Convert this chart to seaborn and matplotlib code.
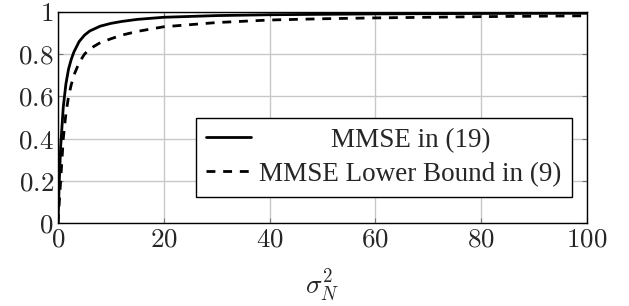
import numpy as np
import pandas as pd
import seaborn as sns
import matplotlib
matplotlib.use("Agg")
import matplotlib.pyplot as plt
from matplotlib.ticker import FuncFormatter

# values
sigma2 = [0, 0.25, 0.5, 1, 1.5, 2, 2.5, 3, 4, 5, 6, 8, 10, 12, 15, 20, 25, 30, 40, 50, 60, 80, 100]
mmse = [0, 0.2, 0.36, 0.55, 0.66, 0.73, 0.775, 0.81, 0.86, 0.89, 0.91, 0.933, 0.946, 0.955,
        0.965, 0.975, 0.979, 0.983, 0.987, 0.989, 0.991, 0.993, 0.994]
mmse_lb = [0, 0.1, 0.2, 0.4, 0.52, 0.6, 0.655, 0.7, 0.76, 0.8, 0.825, 0.855, 0.873, 0.89,
           0.908, 0.93, 0.94, 0.95, 0.962, 0.968, 0.972, 0.978, 0.982]
labels = ["MMSE in (19)", "MMSE Lower Bound in (9)"]

sns.set_style("ticks")
plt.rcParams["font.family"] = ["Liberation Serif", "DejaVu Serif"]
plt.rcParams["mathtext.fontset"] = "cm"

df = pd.DataFrame({"x": sigma2, "mmse": mmse, "lb": mmse_lb})

fig = plt.figure(figsize=(6.29, 3.06), dpi=100)
ax = fig.add_axes([0.0922, 0.2712, 0.8410, 0.6896])

sns.lineplot(data=df, x="x", y="mmse", ax=ax, color="k", lw=2.0, label=labels[0])
sns.lineplot(data=df, x="x", y="lb", ax=ax, color="k", lw=2.0, label=labels[1])
ax.lines[1].set_dashes((3.2, 2.8))

ax.set_xlim(0, 100)
ax.set_ylim(0, 1)
ax.set_xticks(np.arange(0, 101, 20))
ax.set_yticks(np.arange(0, 1.01, 0.2))
ax.xaxis.set_major_formatter(FuncFormatter(lambda v, p: f"${v:g}$"))
ax.yaxis.set_major_formatter(FuncFormatter(lambda v, p: f"${v:g}$"))
ax.grid(True, color="#c8c8c8", lw=1.0)
ax.set_axisbelow(True)
ax.tick_params(direction="in", length=3.5, width=0.8, color="0.45",
               labelsize=19.5, top=True, right=True, pad=3)
for s in ax.spines.values():
    s.set_color("k")
    s.set_linewidth(1.0)

ax.set_xlabel(r"$\sigma_N^2$", fontsize=19.5, labelpad=11)
ax.set_ylabel("")

leg = ax.legend(loc="lower right", bbox_to_anchor=(0.9716, 0.123), borderaxespad=0,
                fontsize=19.5, frameon=True, fancybox=False, framealpha=1,
                edgecolor="k", handlelength=1.65, handletextpad=0.3,
                borderpad=0.38, labelspacing=0.33)
leg.get_frame().set_linewidth(1.0)

# centre the shorter legend label like the original
fig.canvas.draw()
r = fig.canvas.get_renderer()
texts = leg.get_texts()
w = [t.get_window_extent(r).width for t in texts]
texts[0].set_position(((max(w) - w[0]) / 2, 0))

fig.savefig("out.png", dpi=100)
